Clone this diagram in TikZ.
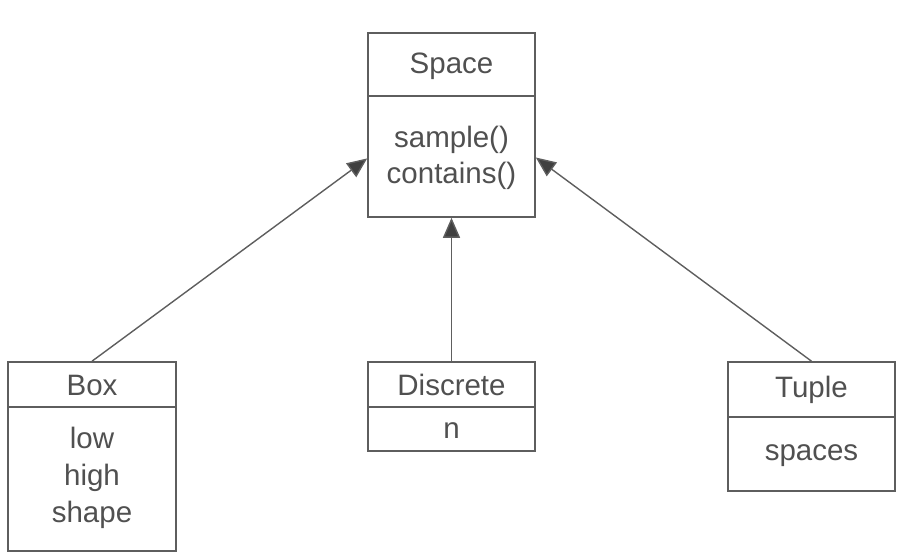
\documentclass[tikz,border=0pt]{standalone}
\usepackage{fontspec}
\setmainfont{Liberation Sans}
\usetikzlibrary{arrows.meta,calc}
\definecolor{linegray}{HTML}{5E5E5E}
\definecolor{textgray}{HTML}{505050}
\begin{document}
\begin{tikzpicture}[x=1pt,y=-1pt,
  classbox/.style={draw=linegray,line width=1.6pt,rectangle,inner sep=0pt},
  divider/.style={draw=linegray,line width=1.6pt},
  lbl/.style={text=textgray,font=\fontsize{29.5}{35}\selectfont,inner sep=0pt,anchor=base},
  inherit/.style={draw=linegray,line width=1.4pt,-{Triangle[length=20pt,width=17pt,fill=black!75]}}]
\useasboundingbox (0,0) rectangle (905,554);
% boxes
\node[classbox,minimum width=167pt,minimum height=184pt] (space) at (451.5,125) {};
\node[classbox,minimum width=168pt,minimum height=189pt] (box) at (92,456.5) {};
\node[classbox,minimum width=167pt,minimum height=89pt] (disc) at (451.5,406.5) {};
\node[classbox,minimum width=167pt,minimum height=129pt] (tuple) at (811.5,426.5) {};
% dividers
\draw[divider] (space.west |- 0,96) -- (space.east |- 0,96);
\draw[divider] (box.west |- 0,407) -- (box.east |- 0,407);
\draw[divider] (disc.west |- 0,407) -- (disc.east |- 0,407);
\draw[divider] (tuple.west |- 0,417) -- (tuple.east |- 0,417);
% texts
\node[lbl] (spaceT) at (451.5,73) {Space};
\node[lbl] (spaceA) at (451.5,147) {sample()};
\node[lbl] (spaceB) at (451.5,183) {contains()};
\node[lbl] (boxT) at (92,395) {Box};
\node[lbl] (boxA) at (92,448) {low};
\node[lbl] (boxB) at (92,485) {high};
\node[lbl] (boxC) at (92,522) {shape};
\node[lbl] (discT) at (451.5,395) {Discrete};
\node[lbl] (discA) at (451.5,438) {n};
\node[lbl] (tupleT) at (811.5,397) {Tuple};
\node[lbl] (tupleA) at (811.5,460) {spaces};
% connectors
\draw[inherit] (box.north) -- ($(space.north west)!0.68!(space.south west)$);
\draw[inherit] (disc.north) -- (space.south);
\draw[inherit] (tuple.north) -- ($(space.north east)!0.675!(space.south east)$);
\end{tikzpicture}
\end{document}
